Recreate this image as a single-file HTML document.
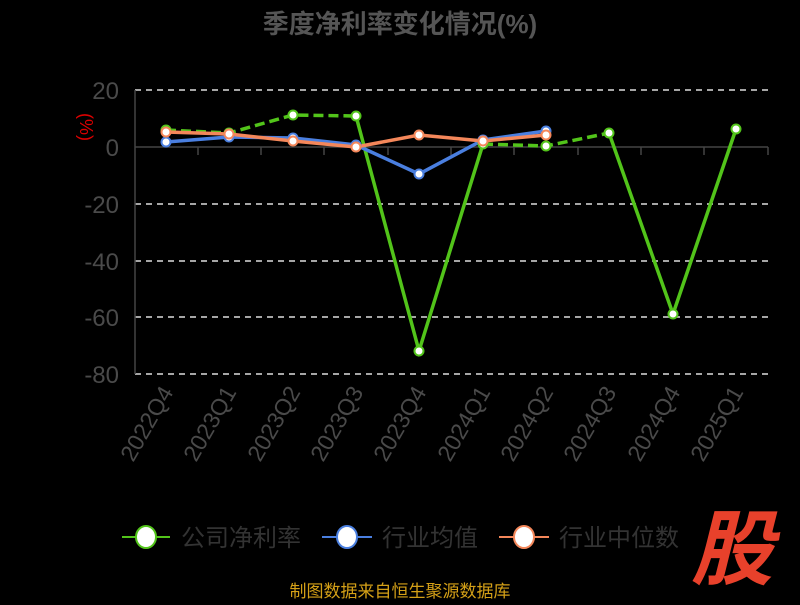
<!DOCTYPE html>
<html><head><meta charset="utf-8"><style>
body{margin:0;background:#000;width:800px;height:600px;overflow:hidden;font-family:"Liberation Sans","Noto Sans CJK SC",sans-serif}
</style></head><body>
<svg width="800" height="600" xmlns="http://www.w3.org/2000/svg" font-family="Liberation Sans, Noto Sans CJK SC, sans-serif">
<text x="400" y="33" text-anchor="middle" font-size="26" font-weight="bold" fill="#555">季度净利率变化情况(%)</text>
<text x="80" y="127" fill="#d00" font-size="18" transform="rotate(90 80 127)" text-anchor="middle">(%)</text>
<g stroke="#ddd" stroke-width="1.5" stroke-dasharray="6,5">
<line x1="135" y1="90" x2="768" y2="90"/><line x1="135" y1="204" x2="768" y2="204"/><line x1="135" y1="261" x2="768" y2="261"/><line x1="135" y1="317" x2="768" y2="317"/><line x1="135" y1="374" x2="768" y2="374"/>
</g>
<line x1="135" y1="90" x2="135" y2="374" stroke="#444" stroke-width="1.5"/>
<line x1="135" y1="147" x2="768" y2="147" stroke="#444" stroke-width="1.5"/>
<g stroke="#444" stroke-width="1.5">
<line x1="198" y1="147" x2="198" y2="155"/><line x1="261" y1="147" x2="261" y2="155"/><line x1="324" y1="147" x2="324" y2="155"/><line x1="388" y1="147" x2="388" y2="155"/><line x1="451" y1="147" x2="451" y2="155"/><line x1="514" y1="147" x2="514" y2="155"/><line x1="578" y1="147" x2="578" y2="155"/><line x1="641" y1="147" x2="641" y2="155"/><line x1="704" y1="147" x2="704" y2="155"/><line x1="768" y1="147" x2="768" y2="155"/>
</g>
<g fill="#4a4a4a" font-size="24" text-anchor="end">
<text x="119" y="99">20</text><text x="119" y="156">0</text><text x="119" y="213">-20</text><text x="119" y="270">-40</text><text x="119" y="326">-60</text><text x="119" y="383">-80</text>
</g>
<g fill="#4a4a4a" font-size="23" text-anchor="end">
<text transform="translate(174,392) rotate(-60)">2022Q4</text>
<text transform="translate(237,392) rotate(-60)">2023Q1</text>
<text transform="translate(301,392) rotate(-60)">2023Q2</text>
<text transform="translate(364,392) rotate(-60)">2023Q3</text>
<text transform="translate(427,392) rotate(-60)">2023Q4</text>
<text transform="translate(491,392) rotate(-60)">2024Q1</text>
<text transform="translate(554,392) rotate(-60)">2024Q2</text>
<text transform="translate(617,392) rotate(-60)">2024Q3</text>
<text transform="translate(681,392) rotate(-60)">2024Q4</text>
<text transform="translate(744,392) rotate(-60)">2025Q1</text>
</g>
<g fill="none" stroke="#52c41a" stroke-width="3.5">
<polyline stroke-dasharray="10,5" points="166,130 229,133 293,115 356,116"/>
<polyline points="356,116 419,351 483,144"/>
<polyline stroke-dasharray="10,5" points="483,144 546,146 609,133"/>
<polyline points="609,133 673,314 736,129"/>
</g>
<polyline fill="none" stroke="#4a7fe0" stroke-width="3.5" points="166,142 229,137 293,138 356,145 419,174 483,140 546,131"/>
<polyline fill="none" stroke="#f4875a" stroke-width="3.5" points="166,132 229,134 293,141 356,147 419,135 483,141 546,135"/>
<g fill="#fff" stroke="#52c41a" stroke-width="2">
<circle cx="166" cy="130" r="4.5"/><circle cx="229" cy="133" r="4.5"/><circle cx="293" cy="115" r="4.5"/><circle cx="356" cy="116" r="4.5"/><circle cx="419" cy="351" r="4.5"/><circle cx="483" cy="144" r="4.5"/><circle cx="546" cy="146" r="4.5"/><circle cx="609" cy="133" r="4.5"/><circle cx="673" cy="314" r="4.5"/><circle cx="736" cy="129" r="4.5"/>
</g>
<g fill="#fff" stroke="#4a7fe0" stroke-width="2">
<circle cx="166" cy="142" r="4.5"/><circle cx="229" cy="137" r="4.5"/><circle cx="293" cy="138" r="4.5"/><circle cx="356" cy="145" r="4.5"/><circle cx="419" cy="174" r="4.5"/><circle cx="483" cy="140" r="4.5"/><circle cx="546" cy="131" r="4.5"/>
</g>
<g fill="#fff" stroke="#f4875a" stroke-width="2">
<circle cx="166" cy="132" r="4.5"/><circle cx="229" cy="134" r="4.5"/><circle cx="293" cy="141" r="4.5"/><circle cx="356" cy="147" r="4.5"/><circle cx="419" cy="135" r="4.5"/><circle cx="483" cy="141" r="4.5"/><circle cx="546" cy="135" r="4.5"/>
</g>
<g font-size="24" fill="#333">
<line x1="122" y1="537" x2="170" y2="537" stroke="#52c41a" stroke-width="2"/><ellipse cx="146" cy="537" rx="10" ry="11" fill="#fff" stroke="#52c41a" stroke-width="2"/>
<text x="181" y="546">公司净利率</text>
<line x1="322" y1="537" x2="372" y2="537" stroke="#4a7fe0" stroke-width="2"/><ellipse cx="347" cy="537" rx="10" ry="11" fill="#fff" stroke="#4a7fe0" stroke-width="2"/>
<text x="382" y="546">行业均值</text>
<line x1="499" y1="537" x2="549" y2="537" stroke="#f4875a" stroke-width="2"/><ellipse cx="524" cy="537" rx="10" ry="11" fill="#fff" stroke="#f4875a" stroke-width="2"/>
<text x="559" y="546">行业中位数</text>
</g>
<text x="732" y="578" font-size="82" font-weight="bold" fill="#e8412b" text-anchor="middle" font-style="italic">股</text>
<text x="400" y="597" font-size="17" fill="#d4a017" text-anchor="middle">制图数据来自恒生聚源数据库</text>
</svg>
</body></html>
